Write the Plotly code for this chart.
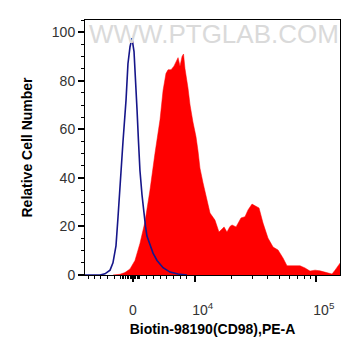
import math
import plotly.graph_objects as go

# Display-scale positions (biexponential axis units: 10^4 -> 4, 10^5 -> 5)
red_x = [3.322, 3.380, 3.421, 3.463, 3.504, 3.545, 3.587, 3.628, 3.669, 3.711,
         3.736, 3.760, 3.777, 3.802, 3.826, 3.843, 3.860, 3.876, 3.893, 3.905,
         3.917, 3.942, 3.959, 3.983, 4.008, 4.025, 4.041, 4.066, 4.083, 4.099,
         4.124, 4.165, 4.198, 4.215, 4.240, 4.264, 4.289, 4.306, 4.339, 4.380,
         4.413, 4.438, 4.471, 4.496, 4.529, 4.562, 4.603, 4.645, 4.686, 4.727,
         4.760, 4.868, 4.909, 4.950, 4.992, 5.033, 5.083, 5.132, 5.157, 5.190, 5.207]
red_y = [0, 0.3, 1, 2.5, 6, 13, 22, 35, 50, 64,
         76, 83, 84.5, 84.5, 86, 88, 89.5, 86, 90, 91,
         85, 77, 70, 63, 57, 51, 44, 38, 34, 31,
         25.5, 22.6, 17.7, 18.5, 19.8, 17.7, 20, 20.6, 19.8, 23.5,
         24, 26.8, 29.2, 28.5, 27.6, 21.4, 15.2, 11.5, 10.3, 7,
         3.8, 3.8, 2.9, 1.6, 2, 1.7, 1, 0.4, 2, 4.5, 5.5]

blue_x = [3.091, 3.215, 3.256, 3.298, 3.322, 3.347, 3.364, 3.380, 3.405, 3.430,
          3.446, 3.463, 3.479, 3.496, 3.508, 3.521, 3.533, 3.545, 3.562, 3.579,
          3.591, 3.603, 3.628, 3.653, 3.686, 3.736, 3.793, 3.860, 3.934]
blue_y = [0, 0, 0.5, 2, 5, 12, 24, 38, 55, 72,
          87, 94, 97.5, 92, 82, 68, 55, 43, 33, 24,
          20, 16, 12, 9, 6, 3, 1.2, 0.4, 0]

x_tick_vals = [3.4876, 4, 5]
x_tick_text = ["0", "&nbsp;&nbsp;&nbsp;&nbsp;10<sup>4</sup>", "&nbsp;&nbsp;&nbsp;&nbsp;10<sup>5</sup>"]
x_minor_vals = ([3.116, 3.169, 3.223, 3.277, 3.331, 3.384,
                 3.401, 3.413, 3.426, 3.438, 3.450, 3.463, 3.475, 3.500, 3.512, 3.525, 3.537,
                 3.545, 3.601, 3.655, 3.711, 3.766, 3.821, 3.876, 3.931]
                + [4 + math.log10(k) for k in range(2, 10)])

fig = go.Figure()
fig.add_trace(go.Scatter(x=red_x, y=red_y, mode="lines", fill="tozeroy",
                         fillcolor="#ff0000", line=dict(color="#ff0000", width=0.5),
                         showlegend=False, hoverinfo="skip"))
fig.add_trace(go.Scatter(x=blue_x, y=blue_y, mode="lines",
                         line=dict(color="#16168a", width=1.6),
                         showlegend=False, hoverinfo="skip"))

axis_font = dict(family="Liberation Sans, Arial", size=14, color="#333333")
fig.update_layout(
    width=353, height=348,
    margin=dict(l=77, r=21, t=12, b=81),
    paper_bgcolor="white", plot_bgcolor="white",
    font=dict(family="Liberation Sans, Arial"),
    xaxis=dict(range=[3.091, 5.198], showgrid=False, zeroline=False, automargin=False,
               showline=True, linecolor="black", linewidth=1, mirror=True,
               ticks="outside", ticklen=6, tickwidth=1.5, tickcolor="black",
               tickvals=x_tick_vals, ticktext=x_tick_text, tickfont=axis_font,
               ticklabelstandoff=16,
               minor=dict(tickvals=x_minor_vals, ticks="outside", ticklen=3,
                          tickcolor="black", tickwidth=1),
               title=dict(text="<b>Biotin-98190(CD98),PE-A</b>", standoff=7,
                          font=dict(family="Liberation Sans, Arial", size=14, color="black"))),
    yaxis=dict(range=[0, 105], showgrid=False, zeroline=False, automargin=False,
               showline=True, linecolor="black", linewidth=1, mirror=True,
               ticks="outside", ticklen=6, tickwidth=1.5, tickcolor="black",
               tick0=0, dtick=20, tickfont=axis_font,
               minor=dict(dtick=5, ticks="outside", ticklen=3,
                          tickcolor="black", tickwidth=1),
               title=dict(text="<b>Relative Cell Number</b>",
                          font=dict(family="Liberation Sans, Arial", size=14, color="black"))),
    annotations=[dict(text="WWW.PTGLAB.COM", xref="paper", yref="paper",
                      x=0.505, y=0.945, xanchor="center", yanchor="middle",
                      showarrow=False,
                      font=dict(family="Liberation Sans, Arial", size=26, color="#dadada"))],
)

fig.write_html("out.html")
